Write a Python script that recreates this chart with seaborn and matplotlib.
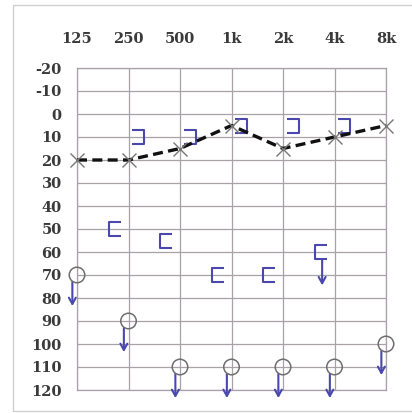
import numpy as np
import matplotlib
matplotlib.use('Agg')
import matplotlib.pyplot as plt
import matplotlib.patches as mpatches
from matplotlib.path import Path
import seaborn as sns

# ── data ────────────────────────────────────────────────────────────────────
freqs = [125, 250, 500, 1000, 2000, 4000, 8000]
freq_labels = ['125', '250', '500', '1k', '2k', '4k', '8k']
db_ticks = list(range(-20, 121, 10))

# left air conduction (X, dashed line)
left_air = [20, 20, 15, 5, 15, 10, 5]

# right air conduction, no response (O with arrow)
right_air_freqs = [125, 250, 500, 1000, 2000, 4000, 8000]
right_air = [70, 90, 110, 110, 110, 110, 100]

# left masked bone conduction (])
left_bone_freqs = [250, 500, 1000, 2000, 4000]
left_bone = [10, 10, 5, 5, 5]

# right masked bone conduction ([)
right_bone_freqs = [250, 500, 1000, 2000, 4000]
right_bone = [50, 55, 70, 70, 60]
right_bone_noresp = [False, False, False, False, True]

# ── helpers ─────────────────────────────────────────────────────────────────
def octave(f):
    return np.log2(np.asarray(f, dtype=float) / 125.0)

blue = '#4a48ad'
grey = '#6e6e6e'
grid_c = '#a8a2a8'

open_left = Path([(0.5, 0.55), (-0.5, 0.55), (-0.5, -0.55), (0.5, -0.55)],
                 [Path.MOVETO, Path.LINETO, Path.LINETO, Path.LINETO])
open_right = Path([(-0.5, 0.55), (0.5, 0.55), (0.5, -0.55), (-0.5, -0.55)],
                  [Path.MOVETO, Path.LINETO, Path.LINETO, Path.LINETO])

sns.set_style('white')
plt.rcParams['font.family'] = ['DejaVu Serif']
plt.rcParams['axes.unicode_minus'] = False

fig = plt.figure(figsize=(4.12, 4.13), dpi=100)
ax = fig.add_axes([77 / 412, 1 - 390 / 413, (386 - 77) / 412, (390 - 68) / 413])

# outer frame
fig.patches.append(mpatches.Rectangle((13 / 412, 2 / 413), 1.2, 1 - 7 / 413,
                                      transform=fig.transFigure, fill=False,
                                      edgecolor='#cfcfcf', linewidth=1.0))

# grid
for v in db_ticks:
    ax.axhline(v, color=grid_c, linewidth=0.9, zorder=1)
for f in freqs:
    ax.axvline(octave(f), color=grid_c, linewidth=0.9, zorder=1)

# right masked bone [
ax.plot(octave(right_bone_freqs) - 0.27, right_bone, linestyle='none',
        marker=open_left, markersize=10, markerfacecolor='none',
        markeredgecolor=blue, markeredgewidth=1.5, zorder=3)
# left masked bone ]
ax.plot(octave(left_bone_freqs) + 0.19, left_bone, linestyle='none',
        marker=open_right, markersize=10, markerfacecolor='none',
        markeredgecolor=blue, markeredgewidth=1.5, zorder=3)

# right air O
sns.scatterplot(x=octave(right_air_freqs), y=right_air, ax=ax, marker='o',
                s=125, facecolor='none', edgecolor=grey, linewidth=1.1,
                zorder=4, clip_on=False)

# left air X with dashed line
sns.lineplot(x=octave(freqs), y=left_air, ax=ax, color='#111111',
             linewidth=2.4, dashes=False, linestyle=(0, (3, 1.6)), zorder=5)
ax.plot(octave(freqs), left_air, linestyle='none', marker='x', markersize=10,
        markeredgecolor='#777777', markeredgewidth=1.0, zorder=6, clip_on=False)

# no-response arrows
arrow_kw = dict(arrowstyle='->,head_length=0.45,head_width=0.25',
                color=blue, linewidth=1.5, shrinkA=0, shrinkB=0)
for f, v in zip(right_air_freqs, right_air):
    x = octave(f) - 0.09
    ax.annotate('', xy=(x, v + 13.5), xytext=(x, v + 3), arrowprops=arrow_kw,
                annotation_clip=False)
for f, v, nr in zip(right_bone_freqs, right_bone, right_bone_noresp):
    if nr:
        x = octave(f) - 0.24
        ax.annotate('', xy=(x, v + 14.5), xytext=(x, v + 3.5),
                    arrowprops=arrow_kw, annotation_clip=False)

# axes
ax.set_xlim(0, 6)
ax.set_ylim(120, -20)
ax.set_xticks(octave(freqs))
ax.set_xticklabels(freq_labels)
ax.set_yticks(db_ticks)
ax.xaxis.tick_top()
ax.tick_params(axis='both', length=0, labelsize=10.5, labelcolor='#3a3a3a')
for lab in ax.get_xticklabels() + ax.get_yticklabels():
    lab.set_fontweight('bold')
ax.tick_params(axis='x', pad=16)
ax.tick_params(axis='y', pad=11)
for s in ax.spines.values():
    s.set_color(grid_c)
    s.set_linewidth(0.9)
ax.set_xlabel('')
ax.set_ylabel('')

plt.savefig('out.png', dpi=100, facecolor='white')
